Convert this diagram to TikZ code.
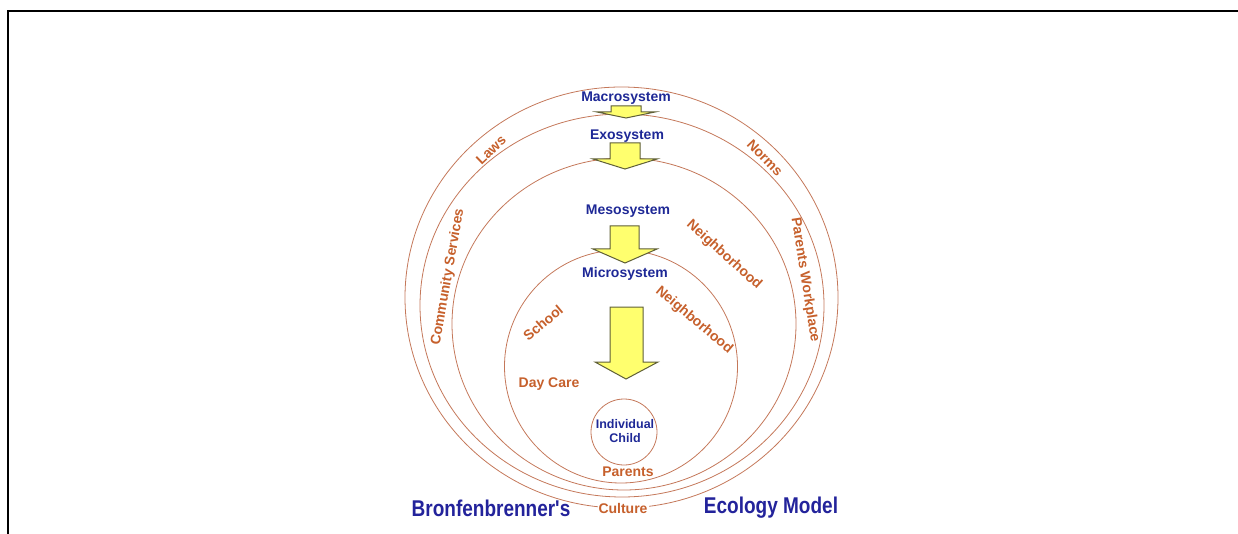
\documentclass[tikz,border=0pt]{standalone}
\usepackage{fontspec}
\setmainfont{Liberation Sans}
\definecolor{ringline}{RGB}{196,120,90}
\definecolor{ringtext}{RGB}{198,96,44}
\definecolor{sysblue}{RGB}{30,40,150}
\definecolor{titleblue}{RGB}{35,35,155}
\definecolor{arrowfill}{RGB}{255,255,110}
\definecolor{arrowedge}{RGB}{95,95,55}
\tikzset{
  ring/.style={draw=ringline,line width=0.8pt},
  sysname/.style={text=sysblue,font=\bfseries\fontsize{14}{16}\selectfont,inner sep=1pt},
  ringlabel/.style={text=ringtext,font=\bfseries\fontsize{14}{16}\selectfont,inner sep=1pt},
  blockarrow/.style={fill=arrowfill,draw=arrowedge,line width=1pt,line join=miter},
  titletext/.style={text=titleblue,font=\bfseries\fontsize{19}{22}\selectfont,yscale=1.2}
}
\begin{document}
\begin{tikzpicture}[x=1pt,y=-1pt]
\useasboundingbox (0,0) rectangle (1238,534);
% frame
\draw[line width=2.5pt] (8,534) -- (8,11) -- (1238,11);
% nested systems
\draw[ring] (621.5,297.5) ellipse [x radius=216.5,y radius=210.5];
\draw[ring] (622,305.5) ellipse [x radius=202,y radius=191.5];
\draw[ring] (624,324) ellipse [x radius=172,y radius=166];
\draw[ring] (621,366.5) circle [radius=116.5];
\draw[ring] (624,432) circle [radius=33];
% block arrows
\draw[blockarrow] (611,106) -- (641,106) -- (641,112) -- (655,112) -- (626,118) -- (597,112) -- (611,112) -- cycle;
\draw[blockarrow] (610,143) -- (640,143) -- (640,159) -- (657,159) -- (625,169) -- (593,159) -- (610,159) -- cycle;
\draw[blockarrow] (610,226) -- (639,226) -- (639,249) -- (657,249) -- (625,263) -- (593,249) -- (610,249) -- cycle;
\draw[blockarrow] (610,307) -- (643,307) -- (643,362) -- (658,362) -- (626,379) -- (595,362) -- (610,362) -- cycle;
% system names
\node[sysname] (macro) at (626,98) {Macrosystem};
\node[sysname] (exo) at (627,136) {Exosystem};
\node[sysname] (meso) at (628,211) {Mesosystem};
\node[sysname] (micro) at (625,274) {Microsystem};
\node[sysname,font=\bfseries\fontsize{12.5}{14}\selectfont,align=center] (child) at (625,431) {Individual\\Child};
% settings in each ring
\node[ringlabel,rotate=44] (laws) at (491,150) {Laws};
\node[ringlabel,rotate=-46] (norms) at (765,158) {Norms};
\node[ringlabel,rotate=80] (services) at (448,277) {Community Services};
\node[ringlabel,rotate=-81] (workplace) at (805,280) {Parents Workplace};
\node[ringlabel,rotate=-42] (hoodmeso) at (724,255) {Neighborhood};
\node[ringlabel,rotate=-40] (hoodmicro) at (694,320) {Neighborhood};
\node[ringlabel,rotate=40] (school) at (543,323) {School};
\node[ringlabel] (daycare) at (549,384) {Day Care};
\node[ringlabel] (parents) at (628,472) {Parents};
\node[ringlabel,fill=white] (culture) at (623,508) {Culture};
% title
\node[titletext] (bronf) at (491,508) {Bronfenbrenner\textquotesingle s};
\node[titletext] (ecology) at (771,508) {Ecology Model};
\end{tikzpicture}
\end{document}
